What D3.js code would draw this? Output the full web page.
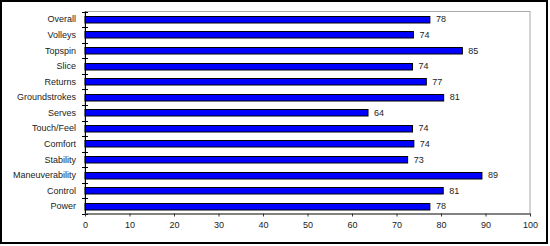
<!DOCTYPE html>
<html lang="en">
<head>
  <meta charset="UTF-8">
  <title>Racquet Ratings</title>
  <script src="https://d3js.org/d3.v7.min.js"></script>
  <style>
    body { margin: 0; background: #fff; font-family: "Liberation Sans", Arial, sans-serif; }
    text { font-size: 9px; fill: #222; }
  </style>
</head>
<body>
  <div id="chart"></div>
  <script>
    const categories = ["Overall", "Volleys", "Topspin", "Slice", "Returns", "Groundstrokes", "Serves",
      "Touch/Feel", "Comfort", "Stability", "Maneuverability", "Control", "Power"];
    const scores = [77.5, 73.8, 84.8, 73.6, 76.7, 80.6, 63.6, 73.6, 73.9, 72.5, 89.2, 80.5, 77.5];
    const xTicks = [0, 10, 20, 30, 40, 50, 60, 70, 80, 90, 100];

    const width = 550, height = 246;
    const plotLeft = 85, plotRight = 530, plotTop = 11.5, plotBottom = 214;

    const svg = d3.select("#chart").append("svg")
      .attr("width", width)
      .attr("height", height);

    // outer frame
    svg.append("rect")
      .attr("x", 1).attr("y", 1)
      .attr("width", 546).attr("height", 242)
      .attr("fill", "#fff")
      .attr("stroke", "#000")
      .attr("stroke-width", 2);

    const x = d3.scaleLinear().domain([0, 100]).range([plotLeft, plotRight]);
    const y = d3.scaleBand().domain(categories).range([plotTop, plotBottom]).paddingInner(0.55).paddingOuter(0.275);

    // plot area border
    svg.append("rect")
      .attr("x", plotLeft).attr("y", plotTop)
      .attr("width", plotRight - plotLeft).attr("height", plotBottom - plotTop)
      .attr("fill", "none")
      .attr("stroke", "#a8a8a8");

    // bars
    svg.append("g")
      .selectAll("rect")
      .data(categories)
      .join("rect")
      .attr("x", x(0))
      .attr("y", d => Math.round(y(d)) + 0.5)
      .attr("width", (d, i) => x(scores[i]) - x(0))
      .attr("height", 6.5)
      .attr("fill", "#0000ff")
      .attr("stroke", "#000")
      .attr("stroke-width", 1);

    // value labels
    svg.append("g")
      .selectAll("text")
      .data(categories)
      .join("text")
      .attr("x", (d, i) => x(scores[i]) + 6)
      .attr("y", d => y(d) + y.bandwidth() / 2)
      .attr("dy", "0.35em")
      .text((d, i) => d3.format(".0f")(scores[i]));

    // y axis with ticks at band edges
    const band = (plotBottom - plotTop) / categories.length;
    const yAxis = svg.append("g");
    yAxis.append("line")
      .attr("x1", plotLeft + 0.5).attr("x2", plotLeft + 0.5)
      .attr("y1", plotTop).attr("y2", plotBottom)
      .attr("stroke", "#000");
    yAxis.selectAll(".tk")
      .data(d3.range(categories.length + 1))
      .join("line")
      .attr("x1", plotLeft - 3).attr("x2", plotLeft + 3)
      .attr("y1", i => Math.round(plotTop + i * band) + 0.5)
      .attr("y2", i => Math.round(plotTop + i * band) + 0.5)
      .attr("stroke", "#000");
    yAxis.selectAll("text")
      .data(categories)
      .join("text")
      .attr("x", plotLeft - 9)
      .attr("y", d => y(d) + y.bandwidth() / 2)
      .attr("dy", "0.35em")
      .attr("text-anchor", "end")
      .text(d => d);

    // x axis
    const xAxis = svg.append("g")
      .attr("transform", `translate(0,${Math.round(plotBottom) - 0.5})`)
      .call(d3.axisBottom(x).tickValues(xTicks).tickSizeOuter(0).tickSizeInner(3).tickPadding(5));
    xAxis.select(".domain").attr("stroke", "#333");
    xAxis.selectAll(".tick line").attr("stroke", "#333");
    xAxis.selectAll("text").style("font-size", "9px").attr("fill", "#222").attr("font-family", null);
  </script>
</body>
</html>
